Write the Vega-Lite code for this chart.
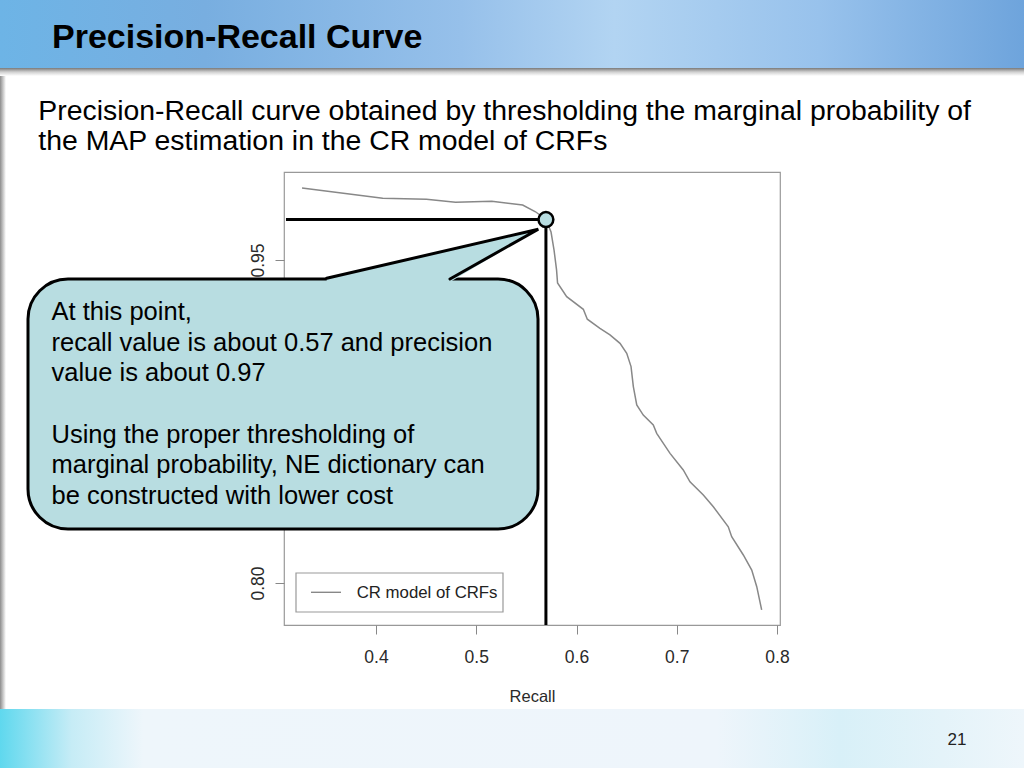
{
  "$schema": "https://vega.github.io/schema/vega-lite/v6.json",
  "width": 496,
  "height": 453,
  "autosize": {"type": "none"},
  "padding": {"left": 284, "top": 172, "right": 244, "bottom": 143},
  "background": "white",
  "datasets": {
    "pr": [
      {"recall": 0.3262, "precision": 0.9834},
      {"recall": 0.4067, "precision": 0.9787},
      {"recall": 0.4503, "precision": 0.9782},
      {"recall": 0.4793, "precision": 0.9768},
      {"recall": 0.5155, "precision": 0.9773},
      {"recall": 0.5463, "precision": 0.9755},
      {"recall": 0.5591, "precision": 0.9724},
      {"recall": 0.5695, "precision": 0.9688},
      {"recall": 0.5746, "precision": 0.9630},
      {"recall": 0.5776, "precision": 0.9546},
      {"recall": 0.5801, "precision": 0.9454},
      {"recall": 0.5811, "precision": 0.9393},
      {"recall": 0.5902, "precision": 0.9330},
      {"recall": 0.6068, "precision": 0.9271},
      {"recall": 0.6108, "precision": 0.9225},
      {"recall": 0.6234, "precision": 0.9183},
      {"recall": 0.6334, "precision": 0.9152},
      {"recall": 0.6434, "precision": 0.9113},
      {"recall": 0.6501, "precision": 0.9067},
      {"recall": 0.6544, "precision": 0.9005},
      {"recall": 0.6567, "precision": 0.8912},
      {"recall": 0.6601, "precision": 0.8827},
      {"recall": 0.6666, "precision": 0.8780},
      {"recall": 0.6766, "precision": 0.8734},
      {"recall": 0.6800, "precision": 0.8695},
      {"recall": 0.6933, "precision": 0.8602},
      {"recall": 0.7065, "precision": 0.8525},
      {"recall": 0.7132, "precision": 0.8470},
      {"recall": 0.7265, "precision": 0.8409},
      {"recall": 0.7365, "precision": 0.8354},
      {"recall": 0.7514, "precision": 0.8261},
      {"recall": 0.7548, "precision": 0.8215},
      {"recall": 0.7664, "precision": 0.8130},
      {"recall": 0.7748, "precision": 0.8060},
      {"recall": 0.7798, "precision": 0.7983},
      {"recall": 0.7847, "precision": 0.7875}
    ],
    "pointerFill": [
      {"px": 0.3508, "top": 0.9415, "bottom": 0.9398},
      {"px": 0.4738, "top": 0.9548, "bottom": 0.9398},
      {"px": 0.5619, "top": 0.9643, "bottom": 0.9643}
    ],
    "pointerEdge": [
      {"k": 1, "px": 0.3508, "py": 0.9415},
      {"k": 2, "px": 0.5619, "py": 0.9643},
      {"k": 3, "px": 0.4738, "py": 0.9412}
    ]
  },
  "layer": [
    {
      "data": {"values": [{}]},
      "mark": {"type": "rect", "fill": {"gradient": "linear", "x1": 0, "y1": 0, "x2": 1, "y2": 0, "stops": [
        {"offset": 0, "color": "#6db4e6"}, {"offset": 0.2, "color": "#78aee0"}, {"offset": 0.45, "color": "#96c0ea"},
        {"offset": 0.6, "color": "#b2d4f2"}, {"offset": 0.8, "color": "#98c2ec"}, {"offset": 1, "color": "#6ea4dc"}]}},
      "encoding": {
        "x": {"datum": 0.0249, "type": "quantitative", "scale": {"domain": [0.30823, 0.80299], "nice": false, "zero": false}},
        "x2": {"datum": 1.0464},
        "y": {"datum": 1.0708, "type": "quantitative", "scale": {"domain": [0.780495, 0.990867], "nice": false, "zero": false}},
        "y2": {"datum": 1.03916}
      }
    },
    {
      "data": {"values": [{}]},
      "mark": {"type": "rect", "fill": {"gradient": "linear", "x1": 0, "y1": 0, "x2": 0, "y2": 1, "stops": [
        {"offset": 0, "color": "#7a7a7a"}, {"offset": 0.5, "color": "#d0d0d0"}, {"offset": 1, "color": "#ffffff"}]}},
      "encoding": {
        "x": {"datum": 0.0249, "type": "quantitative", "scale": {"domain": [0.30823, 0.80299], "nice": false, "zero": false}},
        "x2": {"datum": 1.0464},
        "y": {"datum": 1.03916, "type": "quantitative", "scale": {"domain": [0.780495, 0.990867], "nice": false, "zero": false}},
        "y2": {"datum": 1.03545}
      }
    },
    {
      "data": {"values": [{}]},
      "mark": {"type": "rect", "fill": {"gradient": "linear", "x1": 0, "y1": 0, "x2": 1, "y2": 0, "stops": [
        {"offset": 0, "color": "#5fd8ee"}, {"offset": 0.07, "color": "#c6ecf6"}, {"offset": 0.14, "color": "#eef6fb"},
        {"offset": 0.7, "color": "#eef5fb"}, {"offset": 0.82, "color": "#d8f0f8"}, {"offset": 0.92, "color": "#e4f3f9"}, {"offset": 1, "color": "#eef6fb"}]}},
      "encoding": {
        "x": {"datum": 0.0249, "type": "quantitative", "scale": {"domain": [0.30823, 0.80299], "nice": false, "zero": false}},
        "x2": {"datum": 1.0464},
        "y": {"datum": 0.74149, "type": "quantitative", "scale": {"domain": [0.780495, 0.990867], "nice": false, "zero": false}},
        "y2": {"datum": 0.7140}
      }
    },
    {
      "data": {"values": [{}]},
      "mark": {"type": "rect", "fill": {"gradient": "linear", "x1": 0, "y1": 0, "x2": 1, "y2": 0, "stops": [
        {"offset": 0, "color": "#8c8c8c"}, {"offset": 1, "color": "#ffffff"}]}},
      "encoding": {
        "x": {"datum": 0.0249, "type": "quantitative", "scale": {"domain": [0.30823, 0.80299], "nice": false, "zero": false}},
        "x2": {"datum": 0.0309},
        "y": {"datum": 1.03545, "type": "quantitative", "scale": {"domain": [0.780495, 0.990867], "nice": false, "zero": false}},
        "y2": {"datum": 0.74149}
      }
    },
    {
      "data": {"name": "pr"},
      "mark": {"type": "line", "color": "#888888", "strokeWidth": 1.5},
      "encoding": {
        "x": {"field": "recall", "type": "quantitative",
          "scale": {"domain": [0.30823, 0.80299], "nice": false, "zero": false},
          "axis": {"values": [0.4, 0.5, 0.6, 0.7, 0.8], "format": ".1f", "domain": false, "grid": false,
            "tickSize": 9, "tickColor": "#888888", "tickWidth": 1, "labelFont": "Liberation Sans", "labelFontSize": 17.5,
            "labelColor": "#2a2a2a", "labelPadding": 14, "labelFlush": false, "labelOverlap": false,
            "title": "Recall", "titleFont": "Liberation Sans", "titleFontSize": 16.5, "titleFontWeight": "normal",
            "titleColor": "#2a2a2a", "titlePadding": 23, "zindex": 0}},
        "y": {"field": "precision", "type": "quantitative",
          "scale": {"domain": [0.780495, 0.990867], "nice": false, "zero": false},
          "axis": {"values": [0.8, 0.85, 0.9, 0.95], "format": ".2f", "domain": false, "grid": false,
            "tickSize": 9, "tickColor": "#888888", "tickWidth": 1, "labelFont": "Liberation Sans", "labelFontSize": 17.5,
            "labelColor": "#2a2a2a", "labelPadding": 12, "labelAngle": 270, "labelAlign": "center", "labelBaseline": "alphabetic",
            "labelFlush": false, "labelOverlap": false,
            "title": "Precision", "titleFont": "Liberation Sans", "titleFontSize": 16.5, "titleFontWeight": "normal",
            "titleColor": "#2a2a2a", "titlePadding": 14, "zindex": 0}}
      }
    },
    {
      "data": {"values": [{}]},
      "mark": {"type": "rect", "fill": "white", "stroke": "#999999", "strokeWidth": 1.2},
      "encoding": {
        "x": {"datum": 0.3202, "type": "quantitative", "scale": {"domain": [0.30823, 0.80299], "nice": false, "zero": false}},
        "x2": {"datum": 0.52668},
        "y": {"datum": 0.80464, "type": "quantitative", "scale": {"domain": [0.780495, 0.990867], "nice": false, "zero": false}},
        "y2": {"datum": 0.78653}
      }
    },
    {
      "data": {"values": [{}]},
      "mark": {"type": "rule", "color": "#888888", "strokeWidth": 1.4},
      "encoding": {
        "x": {"datum": 0.33516, "type": "quantitative", "scale": {"domain": [0.30823, 0.80299], "nice": false, "zero": false}},
        "x2": {"datum": 0.36509},
        "y": {"datum": 0.79568, "type": "quantitative", "scale": {"domain": [0.780495, 0.990867], "nice": false, "zero": false}}
      }
    },
    {
      "data": {"values": [{}]},
      "mark": {"type": "text", "text": "CR model of CRFs", "font": "Liberation Sans", "fontSize": 16.8, "fill": "#222222", "align": "left", "baseline": "alphabetic"},
      "encoding": {
        "x": {"datum": 0.38075, "type": "quantitative", "scale": {"domain": [0.30823, 0.80299], "nice": false, "zero": false}},
        "y": {"datum": 0.79317, "type": "quantitative", "scale": {"domain": [0.780495, 0.990867], "nice": false, "zero": false}}
      }
    },
    {
      "data": {"values": [{}]},
      "mark": {"type": "rule", "color": "#000000", "strokeWidth": 3},
      "encoding": {
        "x": {"datum": 0.3102, "type": "quantitative", "scale": {"domain": [0.30823, 0.80299], "nice": false, "zero": false}},
        "x2": {"datum": 0.5695},
        "y": {"datum": 0.9688, "type": "quantitative", "scale": {"domain": [0.780495, 0.990867], "nice": false, "zero": false}}
      }
    },
    {
      "data": {"values": [{}]},
      "mark": {"type": "rule", "color": "#000000", "strokeWidth": 3},
      "encoding": {
        "x": {"datum": 0.5695, "type": "quantitative", "scale": {"domain": [0.30823, 0.80299], "nice": false, "zero": false}},
        "y": {"datum": 0.9688, "type": "quantitative", "scale": {"domain": [0.780495, 0.990867], "nice": false, "zero": false}},
        "y2": {"datum": 0.780495}
      }
    },
    {
      "data": {"values": [{}]},
      "mark": {"type": "rect", "fill": "#b8dde1", "stroke": "#000000", "strokeWidth": 3, "cornerRadius": 40},
      "encoding": {
        "x": {"datum": 0.05287, "type": "quantitative", "scale": {"domain": [0.30823, 0.80299], "nice": false, "zero": false}},
        "x2": {"datum": 0.5616},
        "y": {"datum": 0.94118, "type": "quantitative", "scale": {"domain": [0.780495, 0.990867], "nice": false, "zero": false}},
        "y2": {"datum": 0.82508}
      }
    },
    {
      "data": {"name": "pointerFill"},
      "mark": {"type": "area", "fill": "#b8dde1", "strokeWidth": 0},
      "encoding": {
        "x": {"field": "px", "type": "quantitative", "scale": {"domain": [0.30823, 0.80299], "nice": false, "zero": false}},
        "y": {"field": "top", "type": "quantitative", "scale": {"domain": [0.780495, 0.990867], "nice": false, "zero": false}},
        "y2": {"field": "bottom"}
      }
    },
    {
      "data": {"name": "pointerEdge"},
      "mark": {"type": "line", "color": "#000000", "strokeWidth": 3, "strokeJoin": "miter", "strokeCap": "round"},
      "encoding": {
        "x": {"field": "px", "type": "quantitative", "scale": {"domain": [0.30823, 0.80299], "nice": false, "zero": false}},
        "y": {"field": "py", "type": "quantitative", "scale": {"domain": [0.780495, 0.990867], "nice": false, "zero": false}},
        "order": {"field": "k", "type": "quantitative"}
      }
    },
    {
      "data": {"values": [{}]},
      "mark": {"type": "point", "shape": "circle", "filled": true, "fill": "#b8dde1", "stroke": "#000000", "strokeWidth": 2.5, "size": 220, "opacity": 1, "fillOpacity": 1, "strokeOpacity": 1},
      "encoding": {
        "x": {"datum": 0.5695, "type": "quantitative", "scale": {"domain": [0.30823, 0.80299], "nice": false, "zero": false}},
        "y": {"datum": 0.9688, "type": "quantitative", "scale": {"domain": [0.780495, 0.990867], "nice": false, "zero": false}}
      }
    },
    {
      "data": {"values": [{}]},
      "mark": {"type": "text", "text": "Precision-Recall Curve", "font": "Liberation Sans", "fontSize": 34, "fontWeight": "bold", "fill": "#000000", "align": "left", "baseline": "alphabetic"},
      "encoding": {
        "x": {"datum": 0.07681, "type": "quantitative", "scale": {"domain": [0.30823, 0.80299], "nice": false, "zero": false}},
        "y": {"datum": 1.04831, "type": "quantitative", "scale": {"domain": [0.780495, 0.990867], "nice": false, "zero": false}}
      }
    },
    {
      "data": {"values": [{}]},
      "mark": {"type": "text", "text": ["Precision-Recall curve obtained by thresholding the marginal probability of", "the MAP estimation in the CR model of CRFs"], "lineHeight": 30, "font": "Liberation Sans", "fontSize": 28.4, "fill": "#000000", "align": "left", "baseline": "alphabetic"},
      "encoding": {
        "x": {"datum": 0.06314, "type": "quantitative", "scale": {"domain": [0.30823, 0.80299], "nice": false, "zero": false}},
        "y": {"datum": 1.01502, "type": "quantitative", "scale": {"domain": [0.780495, 0.990867], "nice": false, "zero": false}}
      }
    },
    {
      "data": {"values": [{}]},
      "mark": {"type": "text", "text": ["At this point,", "recall value is about 0.57 and precision", "value is about 0.97"], "lineHeight": 30.7, "font": "Liberation Sans", "fontSize": 25.5, "fill": "#000000", "align": "left", "baseline": "alphabetic"},
      "encoding": {
        "x": {"datum": 0.07631, "type": "quantitative", "scale": {"domain": [0.30823, 0.80299], "nice": false, "zero": false}},
        "y": {"datum": 0.92214, "type": "quantitative", "scale": {"domain": [0.780495, 0.990867], "nice": false, "zero": false}}
      }
    },
    {
      "data": {"values": [{}]},
      "mark": {"type": "text", "text": ["Using the proper thresholding of", "marginal probability, NE dictionary can", "be constructed with lower cost"], "lineHeight": 30.7, "font": "Liberation Sans", "fontSize": 25.5, "fill": "#000000", "align": "left", "baseline": "alphabetic"},
      "encoding": {
        "x": {"datum": 0.07631, "type": "quantitative", "scale": {"domain": [0.30823, 0.80299], "nice": false, "zero": false}},
        "y": {"datum": 0.86511, "type": "quantitative", "scale": {"domain": [0.780495, 0.990867], "nice": false, "zero": false}}
      }
    },
    {
      "data": {"values": [{}]},
      "mark": {"type": "text", "text": "21", "font": "Liberation Sans", "fontSize": 17, "fill": "#222222", "align": "center", "baseline": "alphabetic"},
      "encoding": {
        "x": {"datum": 0.97955, "type": "quantitative", "scale": {"domain": [0.30823, 0.80299], "nice": false, "zero": false}},
        "y": {"datum": 0.72477, "type": "quantitative", "scale": {"domain": [0.780495, 0.990867], "nice": false, "zero": false}}
      }
    }
  ],
  "config": {
    "view": {"stroke": "#999999", "strokeWidth": 1.2},
    "font": "Liberation Sans"
  }
}
